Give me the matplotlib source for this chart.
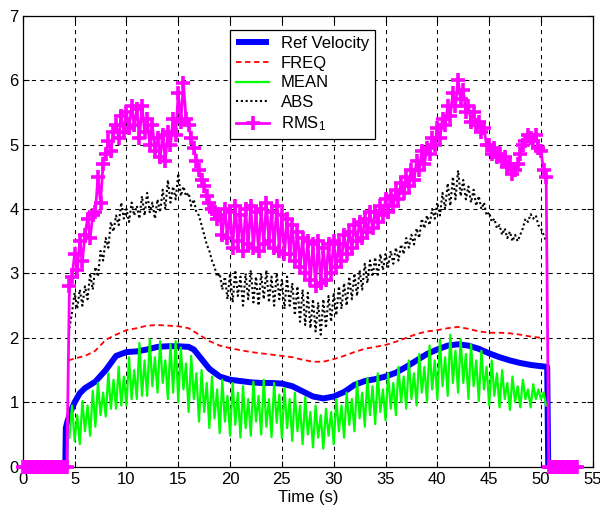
import numpy as np
import matplotlib
matplotlib.use("Agg")
import matplotlib.pyplot as plt

plt.rcParams['font.family'] = ['Liberation Sans', 'DejaVu Sans']
plt.rcParams['mathtext.fontset'] = 'custom'
plt.rcParams['mathtext.rm'] = 'Liberation Sans'
plt.rcParams['mathtext.default'] = 'regular'

# ---------------- data ----------------
# Ref Velocity (smooth)
ref_t = [0, 4.1, 4.15, 4.3, 4.6, 5.0, 5.5, 6, 7, 8, 9, 10, 11, 12, 13, 14, 15, 16, 16.5,
         17, 18, 19, 20, 21, 22, 23, 24, 25, 26, 27, 28, 29, 30, 31, 32, 33, 34, 35, 36,
         37, 38, 39, 40, 41, 42, 43, 44, 45, 46, 47, 48, 49, 50, 50.6, 50.7, 53.5]
ref_v = [0, 0, 0.6, 0.7, 0.85, 1.0, 1.14, 1.22, 1.32, 1.5, 1.72, 1.78, 1.79, 1.82, 1.86,
         1.87, 1.87, 1.86, 1.82, 1.72, 1.52, 1.4, 1.35, 1.33, 1.31, 1.30, 1.30, 1.29, 1.25,
         1.17, 1.09, 1.06, 1.09, 1.16, 1.27, 1.33, 1.36, 1.40, 1.46, 1.55, 1.65, 1.75, 1.82,
         1.88, 1.90, 1.88, 1.83, 1.76, 1.70, 1.65, 1.61, 1.58, 1.56, 1.55, 0, 0]

# FREQ (smooth)
freq_t = [4.4, 5, 6, 7, 8, 9, 10, 11, 12, 13, 14, 15, 16, 17, 18, 19, 20, 21, 22, 23, 24,
          25, 26, 27, 28, 29, 30, 31, 32, 33, 34, 35, 36, 37, 38, 39, 40, 41, 42, 43, 44,
          45, 46, 47, 48, 49, 50, 50.4]
freq_v = [1.65, 1.68, 1.72, 1.80, 1.97, 2.05, 2.12, 2.15, 2.19, 2.20, 2.19, 2.18, 2.15,
          2.05, 1.95, 1.88, 1.84, 1.81, 1.78, 1.76, 1.74, 1.72, 1.70, 1.66, 1.63, 1.63,
          1.67, 1.72, 1.78, 1.83, 1.86, 1.89, 1.94, 2.00, 2.06, 2.10, 2.12, 2.15, 2.17,
          2.14, 2.10, 2.08, 2.08, 2.07, 2.05, 2.02, 2.00, 1.99]

# noisy estimators sampled every 0.25 s from 4.5 s to 50.5 s
t_start, t_end, dt = 4.5, 50.5, 0.25

mean_v = [0.45, 0.95,
          0.40, 0.80, 0.35, 1.02,
          0.55, 0.95, 0.48, 1.18,
          0.62, 1.30, 0.80, 1.15,
          0.78, 1.45, 0.90, 1.35,
          0.90, 1.55, 0.95, 1.40,
          0.95, 1.70, 1.05, 1.50,
          1.05, 1.92, 1.10, 1.65,
          1.10, 1.98, 1.25, 1.70,
          1.15, 1.95, 1.30, 1.65,
          1.05, 1.90, 1.15, 1.95,
          1.00, 1.85, 1.20, 1.60,
          0.85, 1.72, 1.05, 1.45,
          0.70, 1.50, 0.85, 1.30,
          0.60, 1.40, 0.75, 1.20,
          0.52, 1.35, 0.70, 1.10,
          0.48, 1.30, 0.65, 1.15,
          0.45, 1.25, 0.60, 1.05,
          0.48, 1.32, 0.70, 1.10,
          0.50, 1.35, 0.62, 1.05,
          0.46, 1.30, 0.68, 1.12,
          0.44, 1.22, 0.60, 1.05,
          0.40, 1.15, 0.55, 0.95,
          0.35, 1.08, 0.50, 0.85,
          0.30, 0.95, 0.45, 0.80,
          0.28, 0.90, 0.48, 0.85,
          0.35, 1.05, 0.55, 0.95,
          0.45, 1.15, 0.65, 1.05,
          0.55, 1.32, 0.75, 1.15,
          0.62, 1.38, 0.80, 1.25,
          0.66, 1.45, 0.85, 1.20,
          0.72, 1.45, 0.90, 1.30,
          0.80, 1.55, 1.00, 1.40,
          0.90, 1.65, 1.05, 1.45,
          0.95, 1.75, 1.15, 1.55,
          1.00, 1.88, 1.20, 1.65,
          1.05, 1.97, 1.25, 1.70,
          1.10, 2.05, 1.30, 1.80,
          1.15, 1.98, 1.30, 1.75,
          1.05, 1.90, 1.25, 1.65,
          1.02, 1.80, 1.20, 1.55,
          0.95, 1.65, 1.10, 1.45,
          0.92, 1.50, 1.05, 1.30,
          0.88, 1.40, 1.00, 1.25,
          0.92, 1.35, 1.05, 1.20,
          0.92, 1.28, 1.05, 1.20,
          1.05, 1.15, 0.95]

abs_v = [2.15, 2.40,
         2.70, 2.45, 2.75, 2.50,
         2.80, 2.60, 3.00, 2.75,
         3.10, 2.95, 3.35, 3.20,
         3.55, 3.40, 3.80, 3.65,
         3.90, 3.75, 4.10, 3.85,
         4.00, 3.80, 4.10, 3.90,
         4.05, 3.85, 4.20, 3.90,
         4.25, 3.95, 4.10, 3.85,
         4.15, 3.95, 4.30, 4.00,
         4.45, 4.10, 4.35, 4.15,
         4.55, 4.20, 4.35, 4.20,
         4.25, 4.05, 4.15, 3.95,
         3.90, 3.75, 3.60, 3.45,
         3.35, 3.20, 3.10, 2.95,
         3.00, 2.75, 2.95, 2.60,
         3.00, 2.55, 3.05, 2.65,
         2.95, 2.50, 3.00, 2.60,
         3.05, 2.55, 2.95, 2.50,
         3.00, 2.60, 3.05, 2.55,
         2.95, 2.50, 3.00, 2.60,
         2.90, 2.45, 2.95, 2.50,
         2.85, 2.35, 2.80, 2.25,
         2.75, 2.20, 2.70, 2.15,
         2.60, 2.10, 2.55, 2.05,
         2.60, 2.15, 2.65, 2.25,
         2.70, 2.35, 2.80, 2.45,
         2.85, 2.50, 2.95, 2.60,
         3.00, 2.65, 3.05, 2.75,
         3.15, 2.85, 3.20, 2.95,
         3.25, 2.95, 3.30, 3.05,
         3.30, 3.10, 3.35, 3.15,
         3.40, 3.20, 3.45, 3.30,
         3.55, 3.40, 3.60, 3.45,
         3.70, 3.55, 3.85, 3.70,
         3.90, 3.75, 4.00, 3.85,
         4.10, 3.90, 4.25, 4.00,
         4.40, 4.05, 4.50, 4.15,
         4.60, 4.20, 4.45, 4.15,
         4.35, 4.10, 4.30, 4.05,
         4.20, 4.00, 4.10, 3.90,
         3.95, 3.80, 3.85, 3.70,
         3.75, 3.60, 3.70, 3.55,
         3.65, 3.50, 3.60, 3.50,
         3.60, 3.70, 3.85, 3.80,
         3.92, 3.85, 3.90, 3.75,
         3.70, 3.60, 3.50]

rms_v = [2.80, 2.95,
         3.30, 3.05, 3.50, 3.20,
         3.60, 3.85, 3.55, 3.90,
         3.95, 4.50, 4.10, 4.70,
         4.85, 5.05, 4.90, 5.20,
         5.30, 5.10, 5.45, 5.20,
         5.50, 5.25, 5.60, 5.30,
         5.55, 5.10, 5.60, 5.20,
         5.40, 5.00, 5.30, 4.90,
         5.10, 4.80, 5.15, 4.75,
         5.20, 5.00, 5.40, 5.15,
         5.80, 5.35, 5.95, 5.40,
         5.30, 5.10, 4.95, 4.75,
         4.60, 4.45, 4.35, 4.20,
         4.10, 4.00, 3.95, 3.85,
         3.90, 3.60, 4.00, 3.55,
         3.95, 3.40, 4.05, 3.50,
         3.90, 3.35, 4.00, 3.45,
         4.05, 3.40, 3.95, 3.35,
         4.00, 3.45, 4.10, 3.50,
         3.95, 3.40, 4.05, 3.35,
         3.90, 3.30, 3.85, 3.30,
         3.75, 3.20, 3.65, 3.10,
         3.55, 3.00, 3.50, 2.90,
         3.45, 2.80, 3.50, 2.85,
         3.40, 2.90, 3.45, 3.00,
         3.50, 3.10, 3.45, 3.20,
         3.60, 3.30, 3.65, 3.40,
         3.75, 3.50, 3.80, 3.55,
         3.85, 3.65, 3.95, 3.70,
         3.95, 3.80, 4.05, 3.90,
         4.15, 3.95, 4.20, 4.05,
         4.30, 4.15, 4.40, 4.25,
         4.50, 4.35, 4.60, 4.45,
         4.75, 4.60, 4.90, 4.70,
         4.95, 4.85, 5.10, 5.00,
         5.25, 5.10, 5.40, 5.30,
         5.60, 5.45, 5.80, 5.60,
         6.00, 5.70, 5.85, 5.50,
         5.60, 5.35, 5.50, 5.30,
         5.35, 5.20, 5.25, 5.00,
         5.00, 4.85, 4.95, 4.80,
         4.85, 4.75, 4.80, 4.65,
         4.70, 4.55, 4.60, 4.70,
         4.85, 5.00, 5.05, 5.15,
         5.10, 5.05, 5.15, 4.95,
         4.90, 4.60, 4.50]

# RMS is zero before the start and after the end of motion
rms_pre_end, rms_post_start, rms_post_end = 4.25, 50.75, 53.5

x_ticks = [0, 5, 10, 15, 20, 25, 30, 35, 40, 45, 50, 55]
y_ticks = [0, 1, 2, 3, 4, 5, 6, 7]
labels = ['Ref Velocity', 'FREQ', 'MEAN', 'ABS', 'RMS$_1$']

# ---------------- build ----------------
t_act = np.arange(t_start, t_end + dt / 2, dt)
t_pre = np.arange(0, rms_pre_end + dt / 2, dt)
t_post = np.arange(rms_post_start, rms_post_end + dt / 2, dt)
rms_t = np.concatenate([t_pre, t_act, t_post])
rms_all = np.concatenate([np.zeros(len(t_pre)), rms_v, np.zeros(len(t_post))])

fig = plt.figure(figsize=(6.0, 5.16), dpi=100)
ax = fig.add_axes([0.038, 0.0955, 0.950, 0.874])

ax.plot(ref_t, ref_v, color='#0000ff', lw=4.3, solid_capstyle='butt', label=labels[0], zorder=3)
ax.plot(freq_t, freq_v, color='#ff0000', lw=1.3, linestyle=(0, (3, 2)), label=labels[1], zorder=3)
ax.plot(t_act, mean_v, color='#00ff00', lw=1.6, label=labels[2], zorder=3)
ax.plot(t_act, abs_v, color='black', lw=1.5, linestyle=(0, (1, 1.3)), label=labels[3], zorder=3)
ax.plot(rms_t, rms_all, color='#ff00ff', lw=2.0, marker='+', markersize=10,
        markeredgewidth=2.6, label=labels[4], zorder=4, clip_on=False)

ax.set_xlim(0, 55)
ax.set_ylim(0, 7)
ax.set_xticks(x_ticks)
ax.set_yticks(y_ticks)
ax.tick_params(direction='in', length=4, width=0.8, top=True, right=True,
               labelsize=12, pad=4, colors='black')
ax.tick_params(axis='y', pad=3)
ax.grid(True, color='black', linestyle=(0, (4, 4)), linewidth=0.75)
for s in ax.spines.values():
    s.set_linewidth(0.9)
    s.set_color('black')
ax.set_xlabel('Time (s)', fontsize=12, labelpad=2)

leg = ax.legend(loc='upper left', bbox_to_anchor=(0.364, 0.968), fontsize=12,
                frameon=True, fancybox=False, framealpha=1, edgecolor='black',
                handlelength=2.0, handletextpad=0.7, labelspacing=0.28,
                borderpad=0.35, borderaxespad=0)
leg.get_frame().set_linewidth(0.9)
leg.set_zorder(10)

fig.savefig('out.png', dpi=100, facecolor='white')
